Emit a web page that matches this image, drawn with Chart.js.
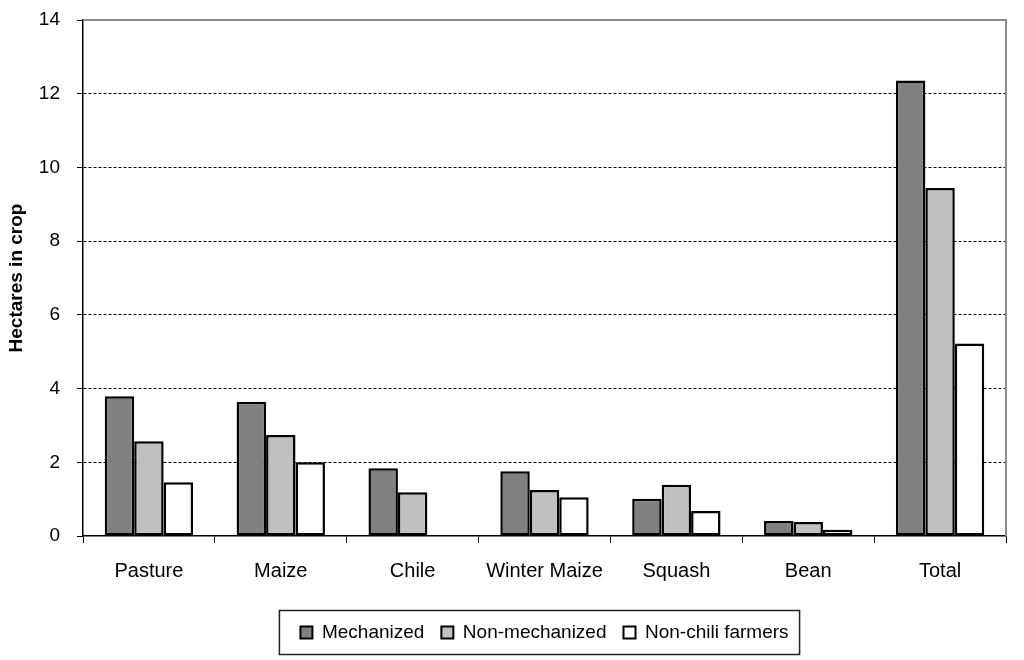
<!DOCTYPE html>
<html>
<head>
<meta charset="utf-8">
<script src="https://cdn.jsdelivr.net/npm/chart.js@4"></script>
<style>
html,body{margin:0;padding:0;background:#fff;}
#wrap{width:1024px;height:660px;}
</style>
</head>
<body>
<div id="wrap"><canvas id="c" width="1024" height="660"></canvas></div>
<script>
const categories = ["Pasture", "Maize", "Chile", "Winter Maize", "Squash", "Bean", "Total"];
const mechanized = [3.79, 3.64, 1.84, 1.76, 1.01, 0.41, 12.36];
const nonMechanized = [2.57, 2.74, 1.19, 1.25, 1.39, 0.38, 9.44];
const nonChiliFarmers = [1.46, 2.0, 0, 1.05, 0.68, 0.17, 5.22];
const seriesNames = ["Mechanized", "Non-mechanized", "Non-chili farmers"];
const yTicks = [0, 2, 4, 6, 8, 10, 12, 14];

const FONT = "'Liberation Sans', Arial, sans-serif";

const frame = {
  id: 'frame',
  afterDraw(chart) {
    const ctx = chart.ctx, a = chart.chartArea;
    ctx.save();
    ctx.strokeStyle = '#8c8c8c';
    ctx.lineWidth = 2;
    ctx.beginPath();
    ctx.moveTo(a.left, a.top);
    ctx.lineTo(a.right, a.top);
    ctx.lineTo(a.right, a.bottom);
    ctx.stroke();
    // legend border
    const hb = chart.legend.legendHitBoxes;
    if (hb && hb.length) {
      const first = hb[0], last = hb[hb.length - 1];
      const cy = first.top + first.height / 2;
      const x0 = first.left - 21, x1 = last.left + last.width + 11;
      ctx.strokeStyle = '#222';
      ctx.lineWidth = 1.5;
      ctx.strokeRect(x0, cy - 22, x1 - x0, 44);
    }
    ctx.restore();
  }
};

new Chart(document.getElementById('c'), {
  type: 'bar',
  data: {
    labels: categories,
    datasets: [
      { label: seriesNames[0], data: mechanized, backgroundColor: '#808080' },
      { label: seriesNames[1], data: nonMechanized, backgroundColor: '#c0c0c0' },
      { label: seriesNames[2], data: nonChiliFarmers, backgroundColor: '#ffffff' }
    ].map(d => Object.assign(d, { borderColor: '#000', borderWidth: 2.5, borderSkipped: false,
      categoryPercentage: 0.67, barPercentage: 1.0 }))
  },
  options: {
    responsive: false,
    animation: false,
    layout: { padding: { top: 20, right: 18, left: 0, bottom: 8 } },
    plugins: {
      legend: {
        position: 'bottom',
        fullSize: false,
        labels: {
          font: { family: FONT, size: 19 },
          color: '#000',
          boxWidth: 12,
          boxHeight: 12,
          padding: 17,
          generateLabels(chart) {
            return chart.data.datasets.map((d, i) => ({
              text: d.label, fillStyle: d.backgroundColor, strokeStyle: '#000',
              lineWidth: 2, datasetIndex: i, hidden: false
            }));
          }
        }
      },
      tooltip: { enabled: false }
    },
    scales: {
      x: {
        grid: { display: true, drawOnChartArea: false, drawTicks: true, tickLength: 7, tickColor: '#000', offset: true },
        border: { color: '#000', width: 1.5 },
        ticks: { font: { family: FONT, size: 20 }, color: '#000', padding: 16 },
        afterFit(s) { s.height = 70; }
      },
      y: {
        min: 0, max: 14,
        afterBuildTicks(s) { s.ticks = yTicks.map(v => ({ value: v })); },
        grid: {
          color: (c) => (c.tick && c.tick.value > 0 && c.tick.value < 14) ? '#000' : 'rgba(0,0,0,0)',
          tickColor: '#000',
          tickLength: 6,
          lineWidth: 1
        },
        border: { color: '#000', width: 1.5, dash: [3, 2] },
        ticks: { font: { family: FONT, size: 19 }, color: '#000', padding: 17 },
        title: { display: true, text: 'Hectares in crop', font: { family: FONT, size: 19, weight: 'bold' }, color: '#000', padding: { top: 5, bottom: 0 } },
        afterFit(s) { s.width = 83; s.paddingTop = 0; s.paddingBottom = 0; }
      }
    }
  },
  plugins: [frame]
});
</script>
</body>
</html>
